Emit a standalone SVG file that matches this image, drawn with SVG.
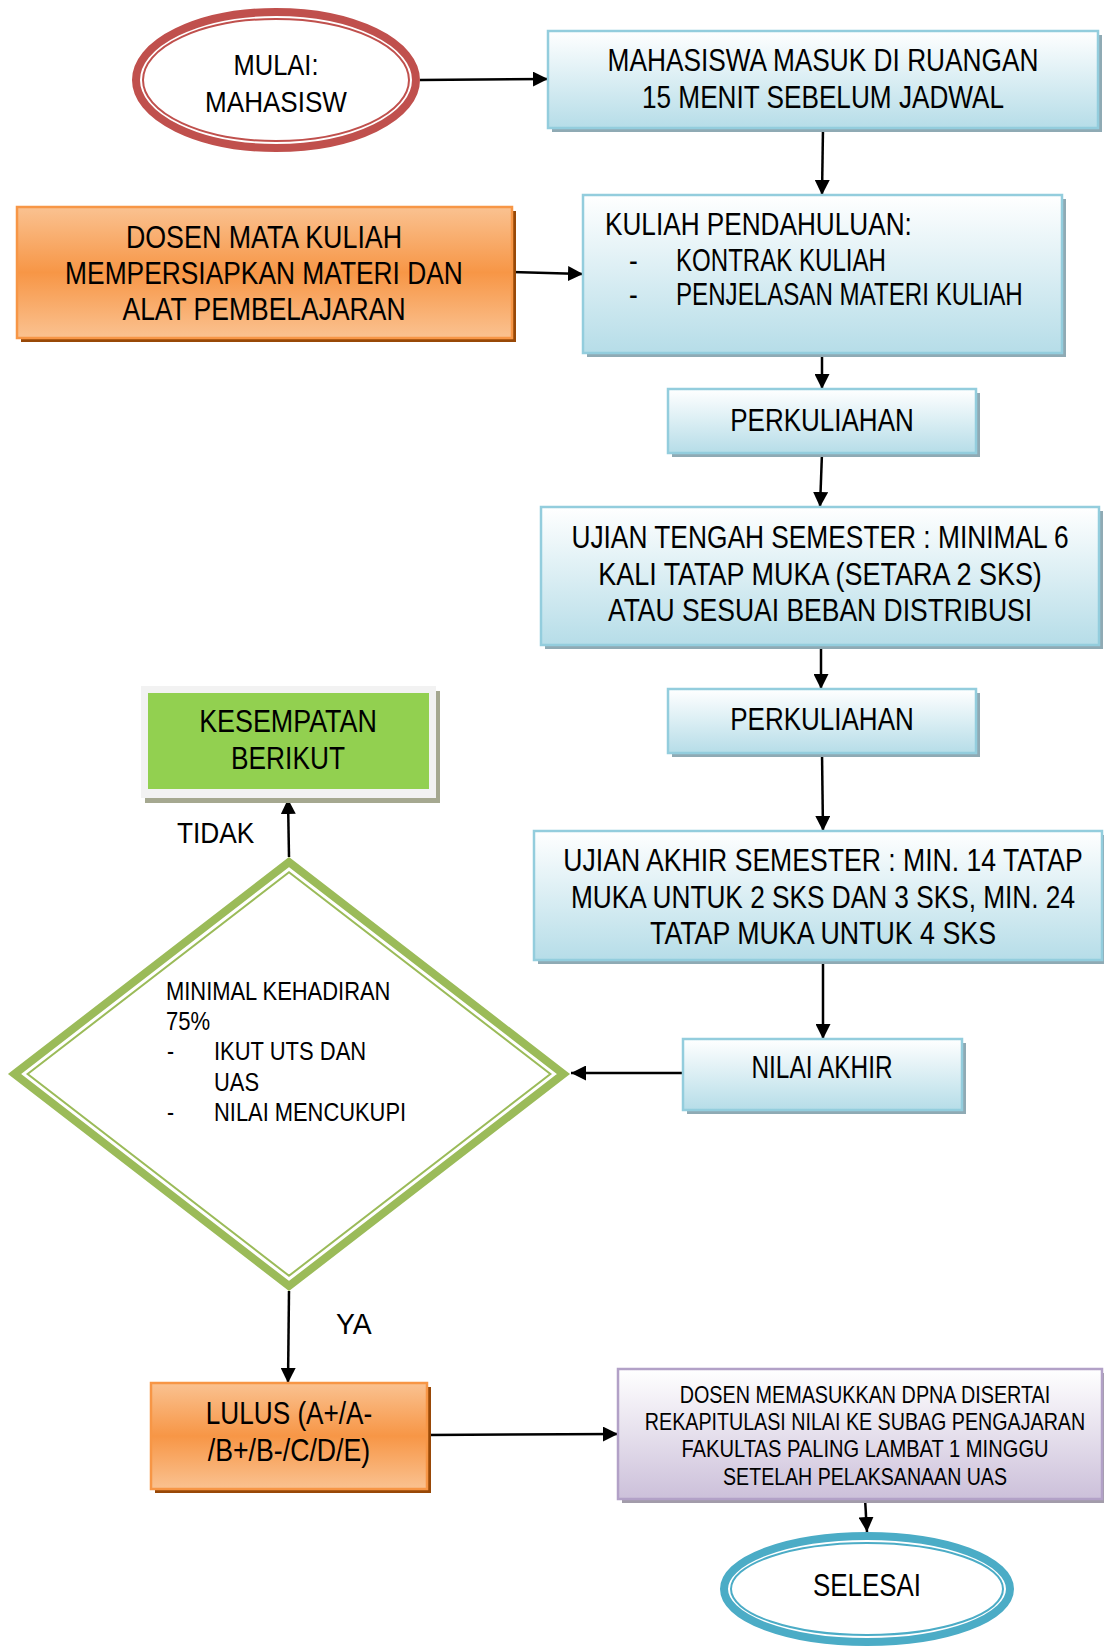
<svg xmlns="http://www.w3.org/2000/svg" width="1104" height="1648" viewBox="0 0 1104 1648">
<style>
text{font-family:"Liberation Sans Narrow","Liberation Sans",Arial,sans-serif;fill:#000;}
.t31{font-size:31px;}
.t29{font-size:29px;}
.t25{font-size:25px;}
.t23{font-size:23px;}
.c{text-anchor:middle;}
.blue{fill:url(#gBlue);stroke:#93CDDD;stroke-width:2.5;}
.bshadow{fill:#8FAAB4;}
.orange{fill:url(#gOrange);stroke:#F79646;stroke-width:2.5;}
.oshadow{fill:#984807;}
.purple{fill:url(#gPurple);stroke:#B2A1C7;stroke-width:2.5;}
.pshadow{fill:#A29CAA;}
.conn{stroke:#000;stroke-width:2.5;fill:none;marker-end:url(#ah);}
</style>
<defs>
<linearGradient id="gBlue" x1="0" y1="0" x2="0" y2="1">
<stop offset="0" stop-color="#FFFFFF"/>
<stop offset="1" stop-color="#B6DDE8"/>
</linearGradient>
<linearGradient id="gOrange" x1="0" y1="0" x2="0" y2="1">
<stop offset="0" stop-color="#FAC291"/>
<stop offset="0.5" stop-color="#F79646"/>
<stop offset="1" stop-color="#FAC291"/>
</linearGradient>
<linearGradient id="gPurple" x1="0" y1="0" x2="0" y2="1">
<stop offset="0" stop-color="#FFFFFF"/>
<stop offset="1" stop-color="#CCC0DA"/>
</linearGradient>
<marker id="ah" markerWidth="15" markerHeight="15" refX="15" refY="7.5" orient="auto" markerUnits="userSpaceOnUse">
<path d="M0,0 L15,7.5 L0,15 z" fill="#000"/>
</marker>
</defs>
<rect width="1104" height="1648" fill="#FFFFFF"/>

<g id="connectors">
<line class="conn" x1="420" y1="80" x2="548" y2="79"/>
<line class="conn" x1="823" y1="128" x2="822" y2="195"/>
<line class="conn" x1="512" y1="272" x2="583" y2="274"/>
<line class="conn" x1="822" y1="353" x2="822" y2="389"/>
<line class="conn" x1="822" y1="453" x2="820" y2="507"/>
<line class="conn" x1="821" y1="645" x2="821" y2="689"/>
<line class="conn" x1="822" y1="753" x2="823" y2="831"/>
<line class="conn" x1="823" y1="960" x2="823" y2="1039"/>
<line class="conn" x1="683" y1="1073" x2="571" y2="1073"/>
<line class="conn" x1="289" y1="857" x2="288" y2="799"/>
<line class="conn" x1="289" y1="1291" x2="288" y2="1383"/>
<line class="conn" x1="427" y1="1435" x2="618" y2="1434"/>
<line class="conn" x1="865" y1="1499" x2="867" y2="1532"/>
</g>

<g id="mulai">
<ellipse cx="276" cy="80" rx="140" ry="68" fill="#FFFFFF" stroke="#C0504D" stroke-width="8"/>
<ellipse cx="276" cy="80" rx="133" ry="61" fill="none" stroke="#C0504D" stroke-width="2"/>
<text class="t29 c" transform="translate(276 75) scale(0.85 1)" textLength="100" lengthAdjust="spacingAndGlyphs">MULAI:</text>
<text class="t29 c" transform="translate(276 112) scale(0.85 1)" textLength="167" lengthAdjust="spacingAndGlyphs">MAHASISW</text>
</g>

<g id="masuk">
<rect class="bshadow" x="552" y="35" width="550" height="97"/>
<rect class="blue" x="548" y="31" width="550" height="97"/>
<text class="t31 c" transform="translate(823 71) scale(0.85 1)" textLength="507" lengthAdjust="spacingAndGlyphs">MAHASISWA MASUK DI RUANGAN</text>
<text class="t31 c" transform="translate(823 108) scale(0.85 1)" textLength="426" lengthAdjust="spacingAndGlyphs">15 MENIT SEBELUM JADWAL</text>
</g>

<g id="dosen-materi">
<rect class="oshadow" x="21" y="211" width="495" height="131"/>
<rect class="orange" x="17" y="207" width="495" height="131"/>
<text class="t31 c" transform="translate(264 248) scale(0.85 1)" textLength="325" lengthAdjust="spacingAndGlyphs">DOSEN MATA KULIAH</text>
<text class="t31 c" transform="translate(264 284) scale(0.85 1)" textLength="468" lengthAdjust="spacingAndGlyphs">MEMPERSIAPKAN MATERI DAN</text>
<text class="t31 c" transform="translate(264 320) scale(0.85 1)" textLength="333" lengthAdjust="spacingAndGlyphs">ALAT PEMBELAJARAN</text>
</g>

<g id="pendahuluan">
<rect class="bshadow" x="587" y="199" width="479" height="158"/>
<rect class="blue" x="583" y="195" width="479" height="158"/>
<text class="t31" transform="translate(605 235) scale(0.85 1)" textLength="361" lengthAdjust="spacingAndGlyphs">KULIAH PENDAHULUAN:</text>
<text class="t31" transform="translate(629 271) scale(0.85 1)">-</text>
<text class="t31" transform="translate(676 271) scale(0.85 1)" textLength="247" lengthAdjust="spacingAndGlyphs">KONTRAK KULIAH</text>
<text class="t31" transform="translate(629 305) scale(0.85 1)">-</text>
<text class="t31" transform="translate(676 305) scale(0.85 1)" textLength="408" lengthAdjust="spacingAndGlyphs">PENJELASAN MATERI KULIAH</text>
</g>

<g id="perkuliahan1">
<rect class="bshadow" x="672" y="393" width="308" height="64"/>
<rect class="blue" x="668" y="389" width="308" height="64"/>
<text class="t31 c" transform="translate(822 431) scale(0.85 1)" textLength="216" lengthAdjust="spacingAndGlyphs">PERKULIAHAN</text>
</g>

<g id="uts">
<rect class="bshadow" x="545" y="511" width="558" height="138"/>
<rect class="blue" x="541" y="507" width="558" height="138"/>
<text class="t31 c" transform="translate(820 548) scale(0.85 1)" textLength="585" lengthAdjust="spacingAndGlyphs">UJIAN TENGAH SEMESTER : MINIMAL 6</text>
<text class="t31 c" transform="translate(820 585) scale(0.85 1)" textLength="522" lengthAdjust="spacingAndGlyphs">KALI TATAP MUKA (SETARA 2 SKS)</text>
<text class="t31 c" transform="translate(820 621) scale(0.85 1)" textLength="499" lengthAdjust="spacingAndGlyphs">ATAU SESUAI BEBAN DISTRIBUSI</text>
</g>

<g id="perkuliahan2">
<rect class="bshadow" x="672" y="693" width="308" height="64"/>
<rect class="blue" x="668" y="689" width="308" height="64"/>
<text class="t31 c" transform="translate(822 730) scale(0.85 1)" textLength="216" lengthAdjust="spacingAndGlyphs">PERKULIAHAN</text>
</g>

<g id="uas">
<rect class="bshadow" x="538" y="835" width="568" height="129"/>
<rect class="blue" x="534" y="831" width="568" height="129"/>
<text class="t31 c" transform="translate(823 871) scale(0.85 1)" textLength="611" lengthAdjust="spacingAndGlyphs">UJIAN AKHIR SEMESTER : MIN. 14 TATAP</text>
<text class="t31 c" transform="translate(823 908) scale(0.85 1)" textLength="593" lengthAdjust="spacingAndGlyphs">MUKA UNTUK 2 SKS DAN 3 SKS, MIN. 24</text>
<text class="t31 c" transform="translate(823 944) scale(0.85 1)" textLength="407" lengthAdjust="spacingAndGlyphs">TATAP MUKA UNTUK 4 SKS</text>
</g>

<g id="nilai-akhir">
<rect class="bshadow" x="687" y="1043" width="279" height="71"/>
<rect class="blue" x="683" y="1039" width="279" height="71"/>
<text class="t31 c" transform="translate(822 1078) scale(0.85 1)" textLength="166" lengthAdjust="spacingAndGlyphs">NILAI AKHIR</text>
</g>

<g id="kesempatan">
<rect x="145" y="691" width="295" height="112" fill="#A5A890"/>
<rect x="141" y="686" width="295" height="112" fill="#F2F2F2"/>
<rect x="148" y="693" width="281" height="96" fill="#92D050"/>
<text class="t31 c" transform="translate(288 732) scale(0.85 1)" textLength="209" lengthAdjust="spacingAndGlyphs">KESEMPATAN</text>
<text class="t31 c" transform="translate(288 769) scale(0.85 1)" textLength="134" lengthAdjust="spacingAndGlyphs">BERIKUT</text>
</g>

<g id="label-tidak">
<text class="t29" transform="translate(177 843) scale(0.85 1)" textLength="91" lengthAdjust="spacingAndGlyphs">TIDAK</text>
</g>

<g id="keputusan">
<polygon points="14.5,1074 289,862 563.5,1074 289,1286" fill="#FFFFFF" stroke="#9BBB59" stroke-width="8" stroke-linejoin="miter"/>
<polygon points="27.6,1074 289,872.2 550.4,1074 289,1275.8" fill="none" stroke="#9BBB59" stroke-width="2"/>
<text class="t25" transform="translate(166 1000) scale(0.85 1)" textLength="264" lengthAdjust="spacingAndGlyphs">MINIMAL KEHADIRAN</text>
<text class="t25" transform="translate(166 1030) scale(0.85 1)" textLength="52" lengthAdjust="spacingAndGlyphs">75%</text>
<text class="t25" transform="translate(167 1060) scale(0.85 1)">-</text>
<text class="t25" transform="translate(214 1060) scale(0.85 1)" textLength="179" lengthAdjust="spacingAndGlyphs">IKUT UTS DAN</text>
<text class="t25" transform="translate(214 1091) scale(0.85 1)" textLength="53" lengthAdjust="spacingAndGlyphs">UAS</text>
<text class="t25" transform="translate(167 1121) scale(0.85 1)">-</text>
<text class="t25" transform="translate(214 1121) scale(0.85 1)" textLength="226" lengthAdjust="spacingAndGlyphs">NILAI MENCUKUPI</text>
</g>

<g id="label-ya">
<text class="t29" transform="translate(336 1334) scale(0.85 1)" textLength="42" lengthAdjust="spacingAndGlyphs">YA</text>
</g>

<g id="lulus">
<rect class="oshadow" x="155" y="1387" width="276" height="106"/>
<rect class="orange" x="151" y="1383" width="276" height="106"/>
<text class="t31 c" transform="translate(289 1424) scale(0.85 1)" textLength="196" lengthAdjust="spacingAndGlyphs">LULUS (A+/A-</text>
<text class="t31 c" transform="translate(289 1461) scale(0.85 1)" textLength="191" lengthAdjust="spacingAndGlyphs">/B+/B-/C/D/E)</text>
</g>

<g id="dpna">
<rect class="pshadow" x="622" y="1373" width="484" height="130"/>
<rect class="purple" x="618" y="1369" width="484" height="130"/>
<text class="t23 c" transform="translate(865 1403) scale(0.85 1)" textLength="436" lengthAdjust="spacingAndGlyphs">DOSEN MEMASUKKAN DPNA DISERTAI</text>
<text class="t23 c" transform="translate(865 1430) scale(0.85 1)" textLength="518" lengthAdjust="spacingAndGlyphs">REKAPITULASI NILAI KE SUBAG PENGAJARAN</text>
<text class="t23 c" transform="translate(865 1457) scale(0.85 1)" textLength="432" lengthAdjust="spacingAndGlyphs">FAKULTAS PALING LAMBAT 1 MINGGU</text>
<text class="t23 c" transform="translate(865 1485) scale(0.85 1)" textLength="334" lengthAdjust="spacingAndGlyphs">SETELAH PELAKSANAAN UAS</text>
</g>

<g id="selesai">
<ellipse cx="867" cy="1589" rx="143" ry="53" fill="#FFFFFF" stroke="#4BACC6" stroke-width="8"/>
<ellipse cx="867" cy="1589" rx="136" ry="46" fill="none" stroke="#4BACC6" stroke-width="2"/>
<text class="t31 c" transform="translate(867 1596) scale(0.85 1)" textLength="127" lengthAdjust="spacingAndGlyphs">SELESAI</text>
</g>
</svg>
